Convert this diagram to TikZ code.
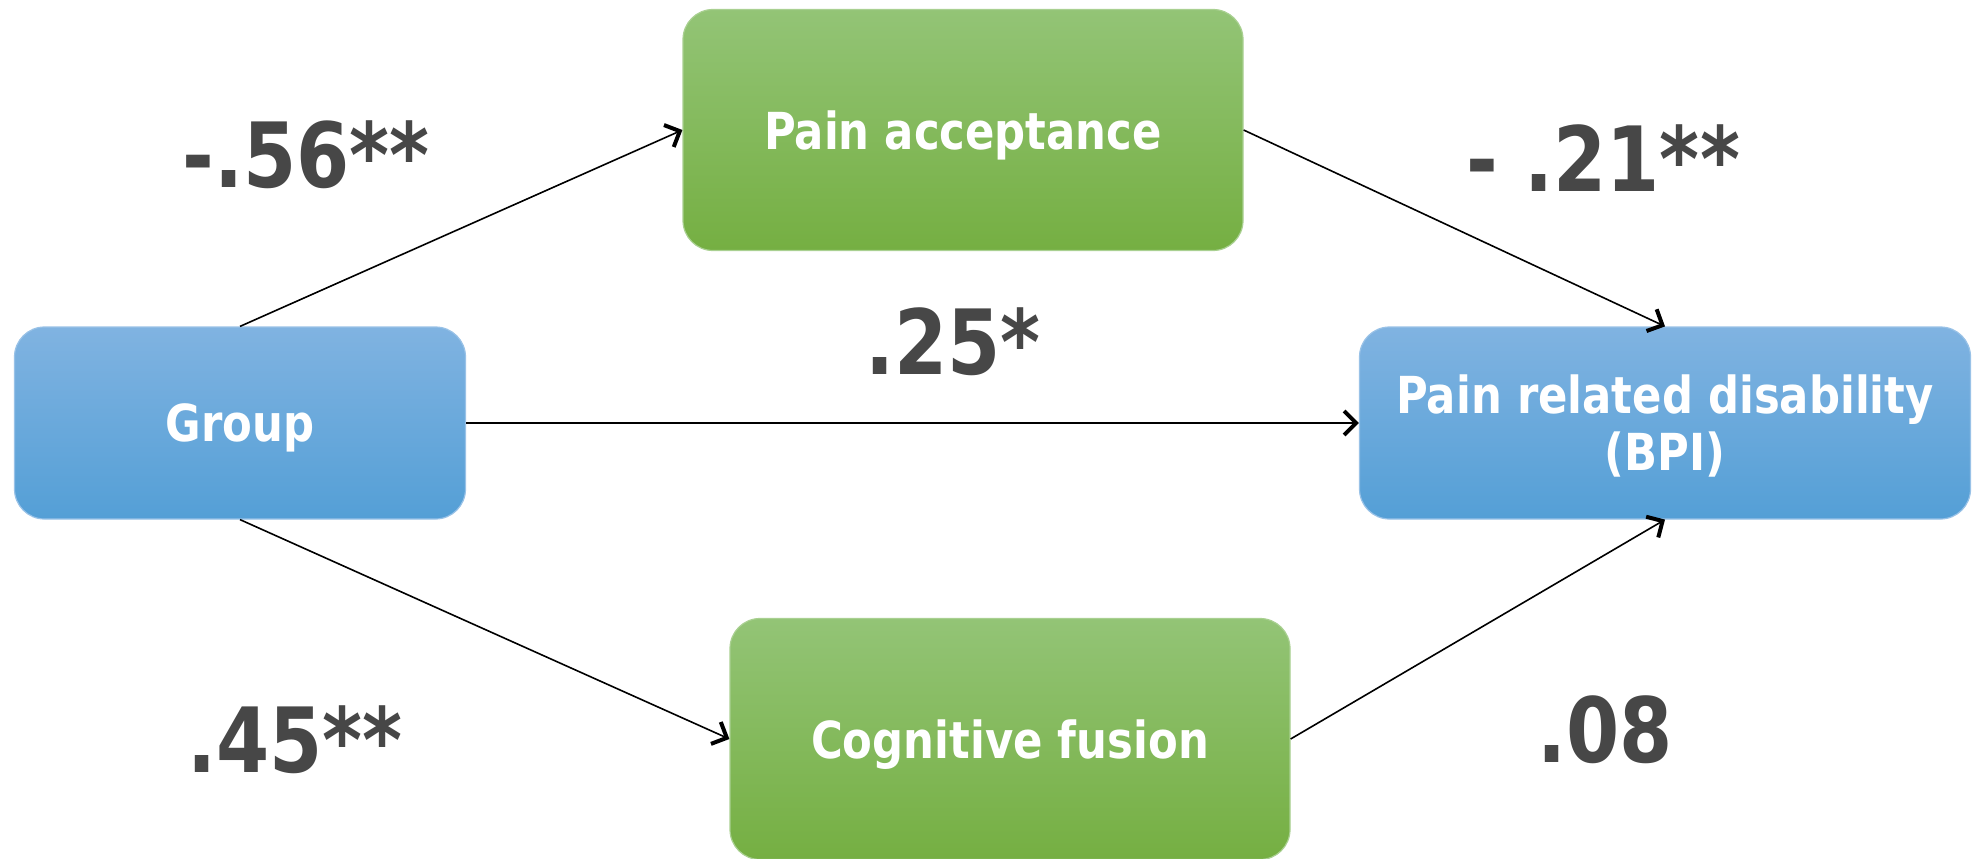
\documentclass[tikz,border=0pt]{standalone}
\usepackage{fontspec}
\setmainfont{DejaVu Sans}[FakeStretch=0.85]
\usepackage{tikz}
\usetikzlibrary{arrows.meta, positioning, calc}

\definecolor{bluetop}{HTML}{80B3E1}
\definecolor{bluebot}{HTML}{549FD6}
\definecolor{greentop}{HTML}{93C476}
\definecolor{greenbot}{HTML}{75AF42}
\definecolor{coefgray}{HTML}{474747}

\begin{document}
\begin{tikzpicture}[
  x=1pt, y=-1pt,
  bluebox/.style = {
    rectangle, draw=bluetop!80!white, line width=1.2pt, rounded corners=30pt,
    top color=bluetop, bottom color=bluebot, align=center, text=white,
    text depth=0pt, font=\fontsize{51}{57}\selectfont\bfseries
  },
  greenbox/.style = {
    rectangle, draw=greentop!80!white, line width=1.2pt, rounded corners=30pt,
    top color=greentop, bottom color=greenbot, align=center, text=white,
    minimum width=560pt, minimum height=241pt,
    text depth=0pt, font=\fontsize{51}{57}\selectfont\bfseries
  },
  coef/.style = {anchor=base, text=coefgray, font=\fontsize{90}{96}\selectfont\bfseries},
  arrow/.style = {-{Straight Barb[length=12pt, width=24pt, line width=4pt]}, line width=1.6pt}
]
  \useasboundingbox (0,0) rectangle (1975,859);

  % Variabel kiri dan kanan
  \node[bluebox, minimum width=451pt, minimum height=192pt] (group) at (240,423) {Group};
  \node[bluebox, minimum width=611pt, minimum height=192pt] (bpi) at (1665,423)
    {Pain related disability\\(BPI)};

  % Mediator atas dan bawah
  \node[greenbox] (accept) at (963,130) {Pain acceptance};
  \node[greenbox] (fusion) at (1010,739) {Cognitive fusion};

  % Garis pengaruh
  \draw[arrow] (group.north) -- (accept.west);
  \draw[arrow] (accept.east) -- (bpi.north);
  \draw[arrow] (group.east) -- (bpi.west);
  \draw[arrow] (group.south) -- (fusion.west);
  \draw[arrow] (fusion.east) -- (bpi.south);

  % Koefisien jalur
  \node[coef] (c1) at (306,187) {-.56**};
  \node[coef] (c2) at (1603,191) {- .21**};
  \node[coef] (c3) at (953,374) {.25*};
  \node[coef] (c4) at (295,772) {.45**};
  \node[coef] (c5) at (1605,762) {.08};

\end{tikzpicture}
\end{document}
